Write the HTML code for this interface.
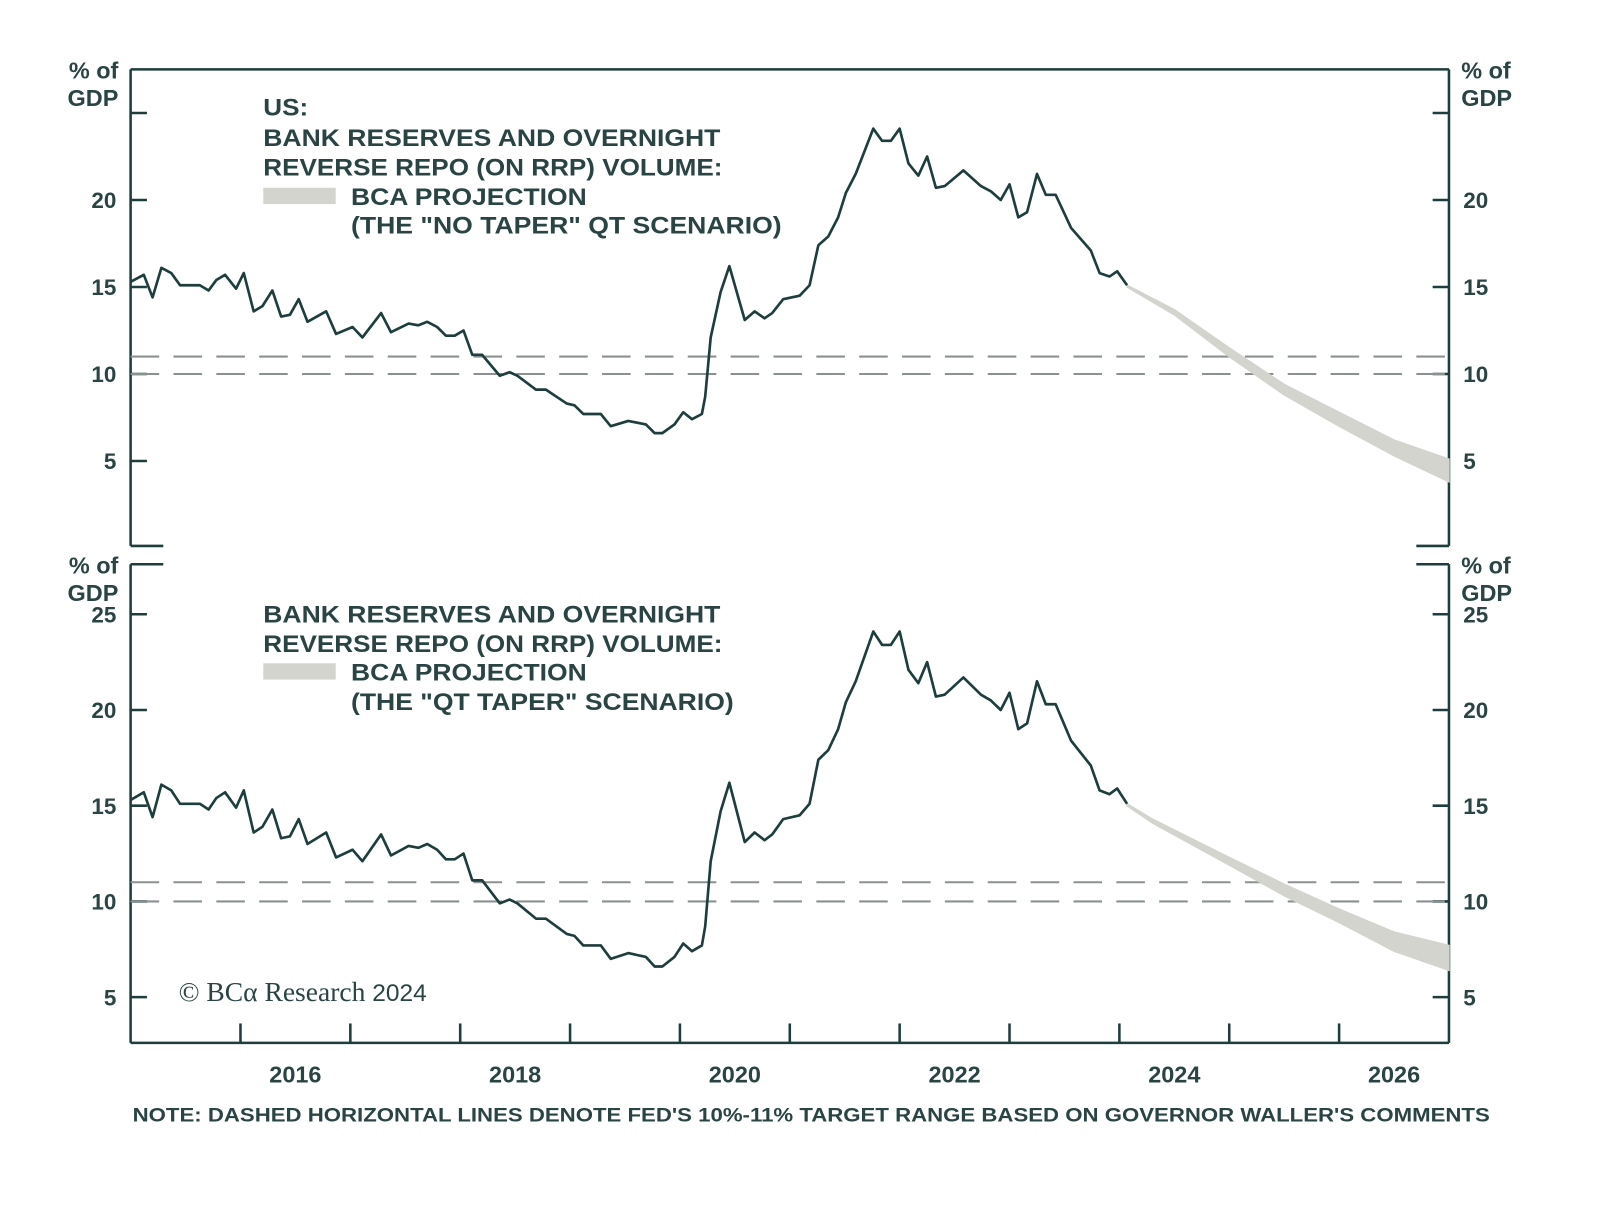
<!DOCTYPE html>
<html><head><meta charset="utf-8"><style>
html,body{margin:0;padding:0;background:#fff;}
svg{display:block;font-family:"Liberation Sans",sans-serif;}
</style></head><body>
<svg id="chart" width="1600" height="1205" viewBox="0 0 1600 1205" xmlns="http://www.w3.org/2000/svg">
<g transform="scale(1.0204)">
<g id="topPanel"></g>
<g id="botPanel"></g>
<g id="xaxis"></g>
<text x="175" y="981" font-family="Liberation Serif, serif" font-size="27" fill="#2a4444">© BCα Research <tspan font-family="Liberation Sans, sans-serif" font-size="24">2024</tspan></text>
<text x="130" y="1099" font-size="19" font-weight="bold" fill="#2a4444" textLength="1330" lengthAdjust="spacingAndGlyphs">NOTE: DASHED HORIZONTAL LINES DENOTE FED'S 10%-11% TARGET RANGE BASED ON GOVERNOR WALLER'S COMMENTS</text>
</g>
</svg>
<script>
const dates=[2015.0,2015.12,2015.2,2015.28,2015.37,2015.45,2015.63,2015.71,2015.78,2015.86,2015.96,2016.03,2016.12,2016.2,2016.29,2016.37,2016.45,2016.53,2016.61,2016.78,2016.87,2017.02,2017.11,2017.28,2017.37,2017.53,2017.62,2017.7,2017.79,2017.87,2017.95,2018.03,2018.11,2018.2,2018.36,2018.45,2018.52,2018.69,2018.78,2018.97,2019.04,2019.12,2019.28,2019.37,2019.53,2019.69,2019.77,2019.84,2019.95,2020.03,2020.11,2020.2,2020.23,2020.28,2020.37,2020.45,2020.59,2020.68,2020.77,2020.84,2020.94,2021.09,2021.18,2021.26,2021.35,2021.44,2021.51,2021.6,2021.76,2021.84,2021.92,2022.0,2022.08,2022.17,2022.25,2022.33,2022.41,2022.58,2022.74,2022.83,2022.92,2023.0,2023.08,2023.16,2023.25,2023.33,2023.42,2023.56,2023.74,2023.82,2023.91,2023.98,2024.07];
const reserves=[15.3,15.7,14.4,16.1,15.8,15.1,15.1,14.8,15.4,15.7,14.9,15.8,13.6,13.9,14.8,13.3,13.4,14.3,13.0,13.6,12.3,12.7,12.1,13.5,12.4,12.9,12.8,13.0,12.7,12.2,12.2,12.5,11.1,11.1,9.9,10.1,9.9,9.1,9.1,8.3,8.2,7.7,7.7,7.0,7.3,7.1,6.6,6.6,7.1,7.8,7.4,7.7,8.7,12.1,14.7,16.2,13.1,13.6,13.2,13.5,14.3,14.5,15.1,17.4,17.9,19.0,20.4,21.5,24.1,23.4,23.4,24.1,22.1,21.4,22.5,20.7,20.8,21.7,20.8,20.5,20.0,20.9,19.0,19.3,21.5,20.3,20.3,18.4,17.1,15.8,15.6,15.9,15.1];
const projDates=[2024.07,2024.5,2025.0,2025.5,2026.0,2026.5,2027.0];
const noTaperHi=[15.1,13.7,11.5,9.4,7.8,6.2,5.1];
const noTaperLo=[15.0,13.4,11.0,8.8,7.0,5.3,3.8];
const taperDates=[2024.07,2024.3,2025.0,2025.5,2026.0,2026.5,2027.0];
const taperHi=[15.1,14.3,12.3,10.9,9.6,8.4,7.7];
const taperLo=[15.0,14.1,11.9,10.3,8.9,7.4,6.4];
const yTicks=[5,10,15,20,25];
const yearLabels=[2016,2018,2020,2022,2024,2026];
const targetBand=[10,11];

const NS='http://www.w3.org/2000/svg';
const C='#1e3d3d';
const X0=128,X1=1420,T0=2015,T1=2027;
const xs=t=>X0+(t-T0)/(T1-T0)*(X1-X0);
function mk(p,tag,at){const e=document.createElementNS(NS,tag);for(const k in at)e.setAttribute(k,at[k]);p.appendChild(e);return e;}

function panel(g,ptop,pbot,zeroY,ppu,pHi,pLo,pD,titleLines,yMax){
  const ys=v=>zeroY-v*ppu;
  const fr=mk(g,'path',{d:`M${X0},${ptop} V${pbot} M${X1},${ptop} V${pbot}`,stroke:C,'stroke-width':2.5,fill:'none'});
  
  
  yTicks.forEach(v=>{
    const y=ys(v); if(y<ptop+5||y>pbot-5) return;
    const t=mk(g,'path',{d:`M${X0},${y} H${X0+16} M${X1},${y} H${X1-16}`,stroke:C,'stroke-width':2.5});
    
    
    if(v<yMax){
      const l=mk(g,'text',{x:X0-14,y:y+8,'text-anchor':'end','font-size':22,'font-weight':'bold',fill:'#2a4444'});l.textContent=v;
      
      
      const r=mk(g,'text',{x:X1+14,y:y+8,'font-size':22,'font-weight':'bold',fill:'#2a4444'});r.textContent=v;
      
      
    }
  });
  [[X0-12,'end'],[X1+12,'start']].forEach(([x,a])=>{
    const u=mk(g,'text',{x:x,y:ptop+9,'text-anchor':a,'font-size':23,'font-weight':'bold',fill:'#2a4444'});
    
    
    mk(u,'tspan',{x:x}).textContent='% of';
    mk(u,'tspan',{x:x,dy:27}).textContent='GDP';
  });
  targetBand.forEach(v=>{
    const d=mk(g,'line',{x1:X0,x2:X1,y1:ys(v),y2:ys(v),stroke:'#8b9191','stroke-width':2,'stroke-dasharray':'28,14'});
    
    
  });
  let dd='M'+pD.map((t,i)=>xs(t)+','+ys(pHi[i])).join(' L');
  dd+=' L'+pD.map((t,i)=>xs(t)+','+ys(pLo[i])).reverse().join(' L')+'Z';
  const b=mk(g,'path',{d:dd,fill:'#d3d4ce',stroke:'#d3d4ce','stroke-width':1.5});
  
  
  const ln=mk(g,'path',{d:'M'+dates.map((t,i)=>xs(t)+','+ys(reserves[i])).join(' L'),fill:'none',stroke:C,'stroke-width':2.6,'stroke-linejoin':'round'});
  
  
  titleLines.forEach(([txt,x,y,w])=>{
    const t=mk(g,'text',{x:x,y:y,'font-size':24,'font-weight':'bold',fill:'#2a4444',textLength:w,lengthAdjust:'spacingAndGlyphs'});t.textContent=txt;
    
    
  });
}
const topG=document.getElementById('topPanel'),botG=document.getElementById('botPanel');
const tl=mk(topG,'path',{d:`M${X0},68 H${X1} M${X0},535 H${X0+32} M${X1},535 H${X1-32}`,stroke:C,'stroke-width':2.5,fill:'none'});


panel(topG,68,535,537,17.05,noTaperHi,noTaperLo,projDates,[
 ['US:',258,113,44],
 ['BANK RESERVES AND OVERNIGHT',258,143,448],
 ['REVERSE REPO (ON RRP) VOLUME:',258,172,450],
 ['BCA PROJECTION',344,201,231],
 ['(THE "NO TAPER" QT SCENARIO)',344,229,422]],25);
const lt=mk(topG,'rect',{x:258,y:184,width:71,height:16,fill:'#d3d4ce'});


const bl=mk(botG,'path',{d:`M${X0},553 H${X0+32} M${X1},553 H${X1-32} M${X0},1022 H${X1}`,stroke:C,'stroke-width':2.5,fill:'none'});


panel(botG,553,1022,1071,18.76,taperHi,taperLo,taperDates,[
 ['BANK RESERVES AND OVERNIGHT',258,610,448],
 ['REVERSE REPO (ON RRP) VOLUME:',258,639,450],
 ['BCA PROJECTION',344,667,231],
 ['(THE "QT TAPER" SCENARIO)',344,696,375]],30);
const lb=mk(botG,'rect',{x:258,y:650,width:71,height:16,fill:'#d3d4ce'});


const xa=document.getElementById('xaxis');
for(let yr=2016;yr<=2026;yr++){
  const t=mk(xa,'line',{x1:xs(yr),x2:xs(yr),y1:1022,y2:1003,stroke:C,'stroke-width':2.5});
  
  
}
yearLabels.forEach(yr=>{
  const l=mk(xa,'text',{x:xs(yr+0.5),y:1061,'text-anchor':'middle','font-size':23,'font-weight':'bold',fill:'#2a4444'});l.textContent=yr;
  
  
});
</script>
</body></html>
